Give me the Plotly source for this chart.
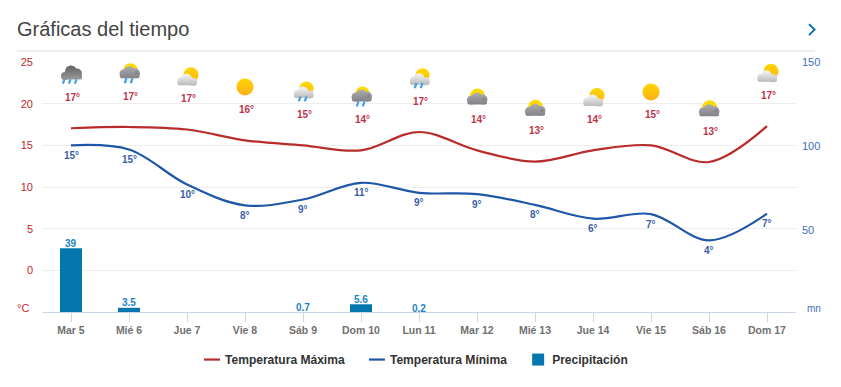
import base64
import plotly.graph_objects as go

days = ["Mar 5", "Mié 6", "Jue 7", "Vie 8", "Sáb 9", "Dom 10", "Lun 11", "Mar 12", "Mié 13", "Jue 14", "Vie 15", "Sáb 16", "Dom 17"]
temp_max = [17.05, 17.2, 16.9, 15.6, 15.0, 14.4, 16.6, 14.4, 13.05, 14.4, 15.0, 13.0, 17.3]
temp_min = [15.0, 14.5, 10.3, 7.8, 8.5, 10.5, 9.3, 9.15, 7.85, 6.2, 6.75, 3.6, 6.8]
max_labels = ["17°", "17°", "17°", "16°", "15°", "14°", "17°", "14°", "13°", "14°", "15°", "13°", "17°"]
min_labels = ["15°", "15°", "10°", "8°", "9°", "11°", "9°", "9°", "8°", "6°", "7°", "4°", "7°"]
precip = [39, 3.5, None, None, 0.7, 5.6, 0.2, None, None, None, None, None, None]
precip_labels = ["39", "3.5", "", "", "0.7", "5.6", "0.2", "", "", "", "", "", ""]
sky = ["rain", "sunrain", "suncloud", "sun", "sunwhiterain", "sunrain", "sunwhiterain", "sungrey", "sungrey", "suncloud", "sun", "sungrey", "suncloud"]

W, H = 841, 387
L, R, T, B = 42, 796, 61.5, 312.3
RED, BLUE, BAR = "#b92c2c", "#1f57a8", "#0478ae"
FONT = "Liberation Sans, Arial, sans-serif"
PX_PER_UNIT = (B - T) / 30.0
Y2_MIN, Y2_MAX = 1, 150


def px(x):
    return (x - L) / (R - L)


def py(y):
    return (B - y) / (B - T)


def grad(name, top, bottom, y1, y2):
    return (f"<linearGradient id='{name}' gradientUnits='userSpaceOnUse' x1='0' y1='{y1}' x2='0' y2='{y2}'>"
            f"<stop offset='0' stop-color='{top}'/><stop offset='1' stop-color='{bottom}'/></linearGradient>")


DEFS = ("<defs>" + grad("s", "#ffd800", "#fbb01c", 6, 24) + grad("w", "#fdfdfd", "#b8b8b8", 12, 25)
        + grad("g", "#adadb0", "#7f7f84", 11, 24) + grad("d", "#626262", "#9c9c9c", 6, 21) + "</defs>")


def cloud(fill, parts, x0, x1, bottom):
    body = "".join(f"<circle cx='{c}' cy='{y}' r='{r}' fill='url(#{fill})'/>" for c, y, r in parts)
    return body + f"<rect x='{x0}' y='{bottom - 5}' width='{x1 - x0}' height='5' rx='1.5' fill='url(#{fill})'/>"


GREY = cloud("g", [(9.5, 18.5, 4.5), (15, 16.5, 5.5), (20.5, 18, 5)], 5.5, 25, 23) + "<circle cx='22' cy='17.5' r='1.8' fill='#86868a'/>"
WHITE = cloud("w", [(9.5, 20.5, 4), (14.5, 18.5, 5.5), (21, 21, 4)], 5.5, 25, 24.5)
DARK = cloud("d", [(9, 16.5, 4), (15, 12, 6), (21, 14, 5)], 5.5, 26, 20)
RAIN3 = "<path d='M8.5 20l-1.6 4.2M14.5 20l-1.6 4.2M20.5 20l-1.6 4.2' stroke='#3f9df0' stroke-width='2.2' fill='none'/>"
RAIN2 = "<path d='M12.5 20l-1.7 5M18.5 20l-1.7 5' stroke='#3f9df0' stroke-width='2.2' fill='none'/>"
ICONS = {
    "rain": DARK + RAIN3,
    "sun": "<circle cx='15' cy='15.5' r='8.5' fill='url(#s)'/>",
    "suncloud": "<circle cx='19' cy='14' r='7.5' fill='url(#s)'/>" + WHITE,
    "sungrey": "<circle cx='15.5' cy='14.5' r='7.5' fill='#ffd800'/>" + GREY,
    "sunrain": "<circle cx='16.5' cy='12' r='7' fill='#ffd800'/><g transform='translate(0.5,-3)'>" + GREY + "</g>" + RAIN2,
    "sunwhiterain": "<circle cx='18.5' cy='12' r='7' fill='url(#s)'/><g transform='translate(0.5,-3)'>" + WHITE + "</g>" + RAIN2,
}


def icon_uri(kind):
    svg = f"<svg xmlns='http://www.w3.org/2000/svg' width='30' height='30' viewBox='0 0 30 30'>{DEFS}{ICONS[kind]}</svg>"
    return "data:image/svg+xml;base64," + base64.b64encode(svg.encode()).decode()


fig = go.Figure()
fig.add_trace(go.Scatter(x=days, y=temp_max, name="Temperatura Máxima", mode="lines",
                         line=dict(color=RED, width=2.2, shape="spline", smoothing=1.0)))
fig.add_trace(go.Scatter(x=days, y=temp_min, name="Temperatura Mínima", mode="lines",
                         line=dict(color=BLUE, width=2.2, shape="spline", smoothing=1.0)))
fig.add_trace(go.Bar(x=days, y=precip, name="Precipitación", yaxis="y2", width=0.38,
                     marker=dict(color=BAR, line=dict(width=0))))

ann = []
for d, v, t in zip(days, temp_max, max_labels):
    ann.append(dict(x=d, y=v, xref="x", yref="y", text=t, showarrow=False, yshift=31, xshift=1,
                    font=dict(family=FONT, size=10, color="#c0354a", weight="bold")))
for d, v, t in zip(days, temp_min, min_labels):
    ann.append(dict(x=d, y=v, xref="x", yref="y", text=t, showarrow=False, yshift=-10,
                    font=dict(family=FONT, size=10, color="#3b5ea8", weight="bold")))
for d, v, t in zip(days, precip, precip_labels):
    if v is not None:
        ann.append(dict(x=d, y=(v - Y2_MIN) / (Y2_MAX - Y2_MIN), xref="x", yref="paper", text=t, showarrow=False,
                        yanchor="middle", yshift=5,
                        font=dict(family=FONT, size=10, color="#1b84c2", weight="bold")))
ann.append(dict(xref="paper", yref="paper", x=px(16), y=py(28), text="Gráficas del tiempo", showarrow=False,
                xanchor="left", yanchor="middle", borderpad=0, font=dict(family=FONT, size=20, color="#444444")))
ann.append(dict(xref="paper", yref="paper", x=px(30), y=py(308.5), text="°C", showarrow=False,
                xanchor="right", yanchor="middle", borderpad=0, font=dict(family=FONT, size=11, color="#c0282d")))
ann.append(dict(xref="paper", yref="paper", x=px(806), y=py(309), text="mn", showarrow=False,
                xanchor="left", yanchor="middle", borderpad=0, font=dict(family=FONT, size=10, color="#3d6fb5")))

images = []
for i, (d, v, k) in enumerate(zip(days, temp_max, sky)):
    images.append(dict(source=icon_uri(k), xref="x", yref="y", x=i, y=v + 54 / PX_PER_UNIT,
                       sizex=30 / ((R - L) / 13), sizey=30 / PX_PER_UNIT, xanchor="center", yanchor="middle",
                       sizing="stretch", layer="above"))

shapes = [
    dict(type="line", xref="paper", yref="paper", x0=px(17), x1=px(815), y0=py(50.5), y1=py(50.5),
         line=dict(color="#dddddd", width=1)),
    dict(type="path", xref="paper", yref="paper",
         path=f"M {px(809)} {py(23.5)} L {px(814.5)} {py(29)} L {px(809)} {py(34.5)}",
         line=dict(color="#0575ae", width=2)),
]

fig.update_layout(
    width=W, height=H, autosize=False,
    margin=dict(l=L, r=W - R, t=T, b=H - B, pad=0),
    paper_bgcolor="white", plot_bgcolor="white",
    font=dict(family=FONT),
    bargap=0.6,
    showlegend=True,
    legend=dict(orientation="h", xanchor="left", yanchor="middle", x=px(185), y=py(360),
                font=dict(family=FONT, size=12.05, color="#333333", weight="bold"),
                itemwidth=30, traceorder="normal", bgcolor="rgba(0,0,0,0)"),
    xaxis=dict(type="category", categoryorder="array", categoryarray=days, range=[-0.5, 12.5],
               showgrid=False, zeroline=False, showline=True, linecolor="#ccd6eb", linewidth=1,
               ticks="outside", ticklen=9, tickcolor="#ccd6eb", tickwidth=1,
               tickfont=dict(family=FONT, size=10.5, color="#707070", weight="bold"), ticklabelstandoff=-1),
    yaxis=dict(range=[-5, 25], tickvals=[0, 5, 10, 15, 20, 25], showgrid=True, gridcolor="#eeeeee", gridwidth=1,
               zeroline=False, showline=False, ticks="", ticklabelstandoff=8,
               tickfont=dict(family=FONT, size=11, color="#c0282d")),
    yaxis2=dict(range=[Y2_MIN, Y2_MAX], tickvals=[50, 100, 150], overlaying="y", side="right", showgrid=False,
                zeroline=False, showline=False, ticks="", ticklabelstandoff=5,
                tickfont=dict(family=FONT, size=11, color="#3d6fb5")),
    annotations=ann, images=images, shapes=shapes,
)

POST = """
document.body.style.margin='0';document.body.style.overflow='hidden';
function tweakLegend(){
  document.querySelectorAll('.legend .legendpoints path').forEach(function(p){
    if(p.closest('.legendlines')){p.setAttribute('d','M19,0h16');}
    else{p.setAttribute('transform','translate(26,0)');p.style.transform='translate(26px,0px)';}
  });
  document.querySelectorAll('.legend .legendlines path').forEach(function(p){p.setAttribute('d','M19,0h16');});
}
tweakLegend();[50,200,600].forEach(function(t){setTimeout(tweakLegend,t);});
"""
fig.write_html("out.html", post_script=POST, config={"displayModeBar": False})
